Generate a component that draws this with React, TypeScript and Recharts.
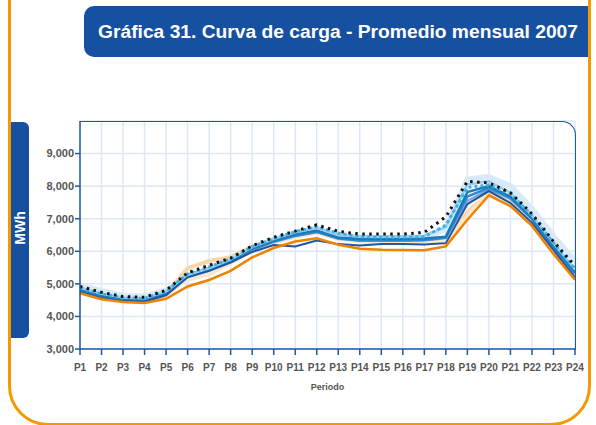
import { LineChart, Line, XAxis, YAxis, CartesianGrid } from 'recharts'

// Load curve, monthly average 2007 (MWh per period)
const periods = [
  'P1', 'P2', 'P3', 'P4', 'P5', 'P6', 'P7', 'P8', 'P9', 'P10', 'P11', 'P12',
  'P13', 'P14', 'P15', 'P16', 'P17', 'P18', 'P19', 'P20', 'P21', 'P22', 'P23', 'P24',
]
const yTicks = [3000, 4000, 5000, 6000, 7000, 8000, 9000]

const ene = [4710, 4530, 4440, 4410, 4540, 4920, 5120, 5400, 5810, 6100, 6300, 6400, 6200, 6080, 6050, 6040, 6030, 6150, 6970, 7720, 7390, 6780, 5920, 5130]
const feb = [4750, 4560, 4470, 4450, 4650, 5200, 5400, 5650, 5980, 6190, 6150, 6330, 6220, 6180, 6220, 6220, 6210, 6250, 7450, 7850, 7480, 6880, 6040, 5200]
const mar = [4790, 4600, 4500, 4480, 4700, 5480, 5700, 5820, 6140, 6340, 6480, 6620, 6440, 6350, 6340, 6330, 6330, 6250, 7200, 7800, 7560, 6920, 6060, 5260]
const abr = [4760, 4580, 4480, 4460, 4620, 5150, 5280, 5620, 6000, 6250, 6420, 6560, 6360, 6280, 6270, 6270, 6280, 6300, 7100, 7880, 7600, 6960, 6100, 5280]
const may = [4800, 4610, 4510, 4490, 4700, 5250, 5430, 5700, 6060, 6300, 6480, 6600, 6400, 6330, 6330, 6330, 6350, 6420, 7680, 7950, 7640, 7000, 6150, 5330]
const jun = [4780, 4590, 4500, 4480, 4680, 5220, 5400, 5680, 6040, 6280, 6460, 6580, 6380, 6320, 6320, 6320, 6330, 6400, 7550, 7900, 7600, 6980, 6120, 5300]
const jul = [4820, 4630, 4530, 4510, 4730, 5280, 5470, 5740, 6100, 6330, 6520, 6640, 6420, 6380, 6380, 6380, 6390, 6450, 7820, 8000, 7680, 7020, 6170, 5350]
const ago = [4850, 4660, 4550, 4530, 4750, 5300, 5500, 5760, 6120, 6360, 6560, 6700, 6480, 6420, 6420, 6420, 6440, 6600, 7900, 8020, 7720, 7060, 6210, 5400]
const sep = [4880, 4700, 4580, 4560, 4770, 5260, 5480, 5750, 6130, 6380, 6580, 6720, 6500, 6460, 6460, 6460, 6480, 6750, 8050, 8150, 7800, 7100, 6250, 5450]
const oct = [4950, 4780, 4630, 4610, 4800, 5150, 5350, 5700, 6100, 6350, 6550, 6700, 6500, 6350, 6350, 6350, 6400, 6700, 8200, 8280, 8000, 7300, 6450, 5700]
const nov = [4870, 4690, 4570, 4550, 4770, 5310, 5520, 5770, 6140, 6390, 6600, 6760, 6560, 6450, 6430, 6430, 6450, 6800, 7960, 8040, 7760, 7100, 6260, 5460]
const dic = [4920, 4740, 4610, 4590, 4800, 5340, 5570, 5790, 6170, 6430, 6620, 6810, 6610, 6530, 6530, 6530, 6580, 7060, 8150, 8100, 7800, 7150, 6300, 5550]

const data = periods.map((p, i) => ({
  p,
  ene: ene[i], feb: feb[i], mar: mar[i], abr: abr[i], may: may[i], jun: jun[i],
  jul: jul[i], ago: ago[i], sep: sep[i], oct: oct[i], nov: nov[i], dic: dic[i],
}))

const blue = '#1650a0'
const axisBlue = '#1f58a8'
const font = '"Liberation Sans", Arial, sans-serif'

export default function App() {
  return (
    <div style={{ position: 'absolute', left: 0, top: 0, width: 596, height: 425, overflow: 'hidden', background: '#fff', fontFamily: font }}>
      {/* orange page frame */}
      <div style={{ position: 'absolute', left: 8, top: -40, width: 583, height: 466, boxSizing: 'border-box', border: '3px solid #f39a00', borderRadius: 40 }} />

      {/* title box */}
      <div style={{ position: 'absolute', left: 84, top: 6, width: 504, height: 51, background: blue, borderRadius: '10px 0 0 10px' }}>
        <svg width={504} height={51} style={{ display: 'block' }}>
          <text x={14} y={32} fill="#fff" fontSize={18} fontWeight="bold" fontFamily={font} textLength={480} lengthAdjust="spacingAndGlyphs">
            Gráfica 31. Curva de carga - Promedio mensual 2007
          </text>
        </svg>
      </div>

      {/* y-axis label box */}
      <div style={{ position: 'absolute', left: 11, top: 122, width: 18, height: 216, background: blue, borderRadius: '0 6px 6px 0' }}>
        <svg width={18} height={216} style={{ display: 'block' }}>
          <text x={0} y={0} transform="translate(14,106) rotate(-90)" textAnchor="middle" fill="#fff" fontSize={14} fontWeight="bold" fontFamily={font}>
            MWh
          </text>
        </svg>
      </div>

      <div style={{ position: 'absolute', left: 0, top: 0 }}>
        <LineChart width={596} height={425} data={data} margin={{ top: 121, right: 21, bottom: 36, left: 20 }}>
          <CartesianGrid stroke="#dce8f6" strokeWidth={1.5} />
          <XAxis
            dataKey="p"
            interval={0}
            stroke={axisBlue}
            strokeWidth={1.5}
            tickSize={6}
            tickMargin={9}
            height={40}
            tick={{ fill: '#555', fontSize: 10, fontWeight: 'bold', fontFamily: font }}
            label={{ value: 'Periodo', position: 'insideBottom', offset: -1, fill: '#555', fontSize: 9, fontWeight: 'bold', fontFamily: font }}
          />
          <YAxis
            domain={[3000, 10000]}
            ticks={yTicks}
            width={60}
            stroke={axisBlue}
            strokeWidth={1.5}
            tickSize={5}
            tickMargin={1}
            tickFormatter={(v: number) => v.toLocaleString('en-US')}
            tick={{ fill: '#555', fontSize: 11, fontWeight: 'bold', fontFamily: font }}
          />
          <Line dataKey="oct" stroke="#d8eaf8" strokeWidth={6} dot={false} isAnimationActive={false} />
          <Line dataKey="mar" stroke="#fbd6a8" strokeWidth={4} dot={false} isAnimationActive={false} />
          <Line dataKey="abr" stroke="#fde6c8" strokeWidth={3} dot={false} isAnimationActive={false} />
          <Line dataKey="jun" stroke="#7f9fd8" strokeWidth={2} dot={false} isAnimationActive={false} />
          <Line dataKey="may" stroke="#2b8ccc" strokeWidth={2.5} dot={false} isAnimationActive={false} />
          <Line dataKey="jul" stroke="#1a7cc0" strokeWidth={2.5} dot={false} isAnimationActive={false} />
          <Line dataKey="sep" stroke="#94cdf0" strokeWidth={2.5} dot={false} isAnimationActive={false} />
          <Line dataKey="feb" stroke="#1c56a4" strokeWidth={2} dot={false} isAnimationActive={false} />
          <Line dataKey="ene" stroke="#ef8200" strokeWidth={2.5} dot={false} isAnimationActive={false} />
          <Line dataKey="nov" stroke="#3fb0e6" strokeWidth={3} strokeDasharray="3 3" dot={false} isAnimationActive={false} />
          <Line dataKey="dic" stroke="#111" strokeWidth={3} strokeDasharray="2.5 4.5" dot={false} isAnimationActive={false} />
        </LineChart>
      </div>

      {/* top / right border of the plot area */}
      <div style={{ position: 'absolute', left: 80, top: 121, width: 496, height: 229, boxSizing: 'border-box', borderTop: `1.5px solid ${axisBlue}`, borderRight: `1.5px solid ${axisBlue}`, borderTopRightRadius: 14, pointerEvents: 'none' }} />
    </div>
  )
}
